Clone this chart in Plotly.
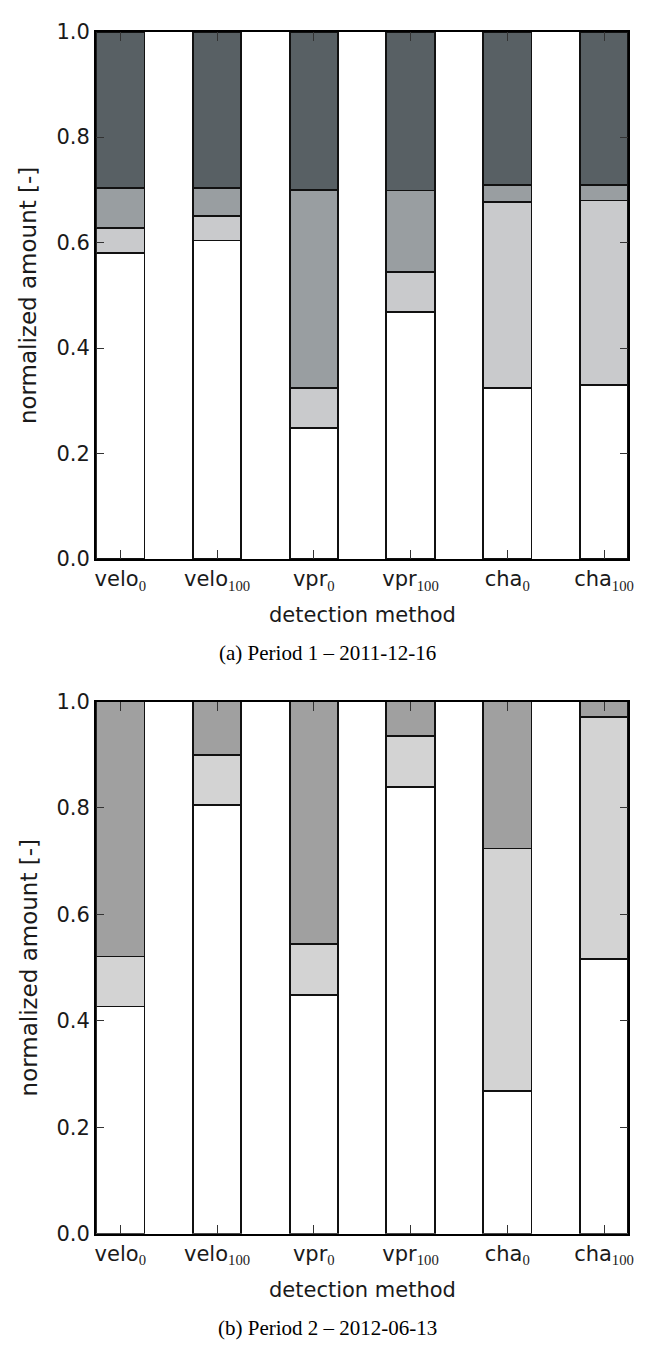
import plotly.graph_objects as go

# Detection methods (x categories) and their tick labels
methods = ["velo0", "velo100", "vpr0", "vpr100", "cha0", "cha100"]
method_base = ["velo", "velo", "vpr", "vpr", "cha", "cha"]
method_sub = ["0", "100", "0", "100", "0", "100"]

# Period 1 – 2011-12-16, stacked fractions (bottom to top)
p1_white = [0.580, 0.604, 0.249, 0.469, 0.325, 0.330]
p1_light = [0.047, 0.046, 0.075, 0.076, 0.352, 0.350]
p1_mid = [0.077, 0.054, 0.376, 0.154, 0.032, 0.029]
p1_dark = [0.296, 0.296, 0.300, 0.301, 0.291, 0.291]

# Period 2 – 2012-06-13, stacked fractions (bottom to top)
p2_white = [0.427, 0.805, 0.448, 0.840, 0.269, 0.517]
p2_light = [0.094, 0.095, 0.096, 0.095, 0.455, 0.454]
p2_mid = [0.479, 0.100, 0.456, 0.065, 0.276, 0.029]

y_ticks = [0.0, 0.2, 0.4, 0.6, 0.8, 1.0]

SANS = "DejaVu Sans"
SERIF = "Liberation Serif"
W, H = 655, 1349

x_pos = list(range(len(methods)))
tick_text = [
    f"{b}<sub style=\"font-family:'{SERIF}'\">{s}</sub>"
    for b, s in zip(method_base, method_sub)
]

fig = go.Figure()

edge = dict(color="#111111", width=1.8)


def add_stack(series, colors, xa, ya):
    for vals, col in zip(series, colors):
        fig.add_trace(go.Bar(
            x=x_pos, y=vals, width=0.5,
            marker=dict(color=col, line=edge),
            xaxis=xa, yaxis=ya, showlegend=False, hoverinfo="y",
        ))


add_stack([p1_white, p1_light, p1_mid, p1_dark],
          ["#ffffff", "#c9cacc", "#999ea1", "#586064"], "x", "y")
add_stack([p2_white, p2_light, p2_mid],
          ["#ffffff", "#d3d3d3", "#a0a0a0"], "x2", "y2")

# panel pixel boxes (left, right, top, bottom)
px_left, px_right = 96, 633
panels = [(20, 557), (702, 1244)]


def ydom(top, bottom):
    return [1 - bottom / H, 1 - top / H]


xdom = [px_left / W, px_right / W]

axis_common = dict(
    showline=True, linecolor="#000000", linewidth=2, mirror="ticks",
    ticks="inside", tickcolor="#333333", tickwidth=1.2,
    showgrid=False, zeroline=False, tickfont=dict(family=SANS, size=21, color="#1a1a1a"),
)

layout = dict(
    width=W, height=H, margin=dict(l=0, r=0, t=0, b=0),
    paper_bgcolor="#ffffff", plot_bgcolor="#ffffff",
    barmode="stack", showlegend=False,
)
for i, (top, bottom) in enumerate(panels):
    sx = "" if i == 0 else str(i + 1)
    layout[f"xaxis{sx}"] = dict(
        axis_common, domain=xdom, range=[-0.25, 5.25],
        tickvals=x_pos, ticktext=tick_text, ticklen=9,
        anchor=f"y{sx}",
    )
    layout[f"yaxis{sx}"] = dict(
        axis_common, domain=ydom(top, bottom), range=[0, 1],
        tickvals=y_ticks, ticktext=[f"{v:.1f}" for v in y_ticks], ticklen=8,
        anchor=f"x{sx}",
    )

fig.update_layout(**layout)

captions = ["(a) Period 1 – 2011-12-16", "(b) Period 2 – 2012-06-13"]
for (top, bottom), cap in zip(panels, captions):
    mid_x = (px_left + px_right) / 2 / W
    fig.add_annotation(
        x=mid_x, y=1 - (bottom + 57) / H, xref="paper", yref="paper",
        text="detection method", showarrow=False, yanchor="middle",
        font=dict(family=SANS, size=21, color="#1a1a1a"),
    )
    fig.add_annotation(
        x=330 / W, y=1 - (bottom + 96) / H, xref="paper", yref="paper",
        text=cap, showarrow=False, yanchor="middle",
        font=dict(family=SERIF, size=21, color="#000000"),
    )
    fig.add_annotation(
        x=28 / W, y=1 - (top + bottom) / 2 / H, xref="paper", yref="paper",
        text="normalized amount [-]", showarrow=False, textangle=-90,
        xanchor="center", yanchor="middle",
        font=dict(family=SANS, size=23, color="#1a1a1a"),
    )

fig.write_html("out.html")
